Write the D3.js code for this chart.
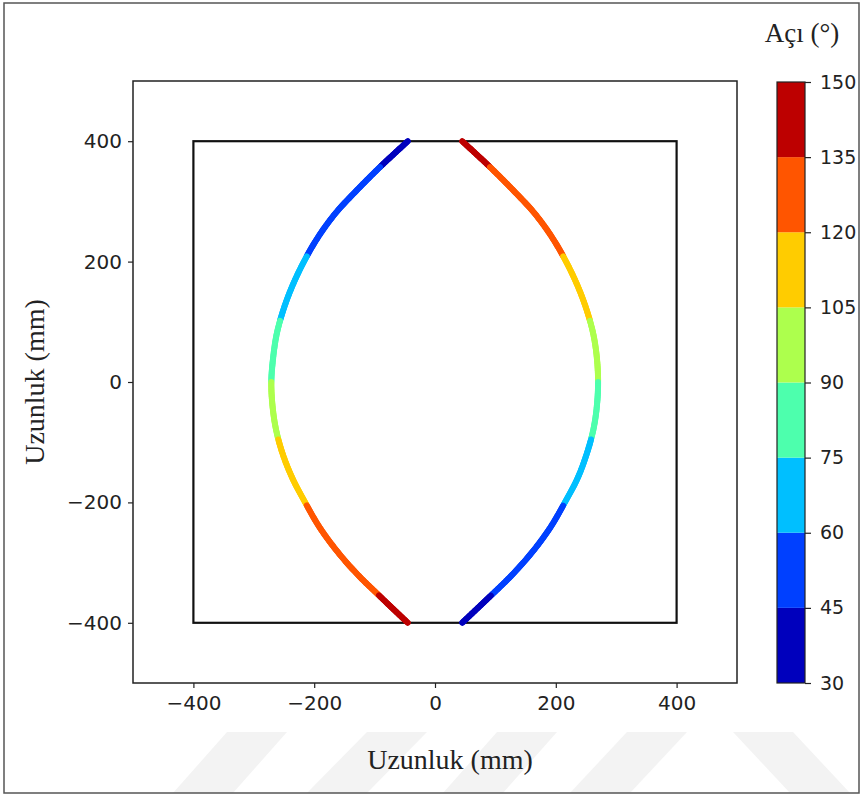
<!DOCTYPE html>
<html>
<head>
<meta charset="utf-8">
<script src="https://cdn.jsdelivr.net/npm/d3@7"></script>
<style>
  body { margin: 0; background: #fff; }
  svg { display: block; }
</style>
</head>
<body>
<svg id="chart" width="863" height="797"></svg>
<script>
// axis ticks
const axisTicks = [-400, -200, 0, 200, 400];
const levels = [30, 45, 60, 75, 90, 105, 120, 135, 150];
const levelColors = ['#0000bd', '#0040ff', '#00bfff', '#4dffad', '#adff4d', '#ffcc00', '#ff5500', '#bd0000'];

// left fibre path (mm) and angle (deg)
const leftY = [400, 360, 320, 280, 240, 200, 160, 120, 80, 40, 0, -40, -80, -120, -160, -200, -240, -280, -320, -360, -400];
const leftX = [-45, -88, -128, -165, -194, -217, -236, -251, -262, -268, -271, -269, -263, -252, -236, -215, -192, -163, -128, -87, -45];
const leftAngle = [41, 44.6, 48.5, 52, 56.5, 61, 66, 72, 78, 84, 90, 96.5, 103, 108.5, 114, 119.5, 124, 128, 132, 135.5, 139];

// right fibre path (mm) and angle (deg)
const rightY = [400, 360, 320, 280, 240, 200, 160, 120, 80, 40, 0, -40, -80, -120, -160, -200, -240, -280, -320, -360, -400];
const rightX = [45, 88, 128, 165, 194, 217, 236, 251, 262, 268, 270, 268, 262, 251, 236, 215, 192, 163, 128, 87, 45];
const rightAngle = [139, 135.4, 131.5, 128, 123.5, 119, 114, 108, 102, 96, 90, 83.5, 77, 71.5, 66, 60.5, 56, 52, 48, 44.5, 41];

const svg = d3.select('#chart');
const serif = '"Liberation Serif", "Times New Roman", serif';
const sans = '"DejaVu Sans", sans-serif';

const margin = { top: 81, left: 133 };
const innerWidth = 604;
const innerHeight = 602;

// faint watermark stripes of the scanned figure
const stripes = [[227, 173], [367, 307], [497, 443], [627, 570]];
stripes.forEach(s => {
  svg.append('path')
      .attr('d', `M${s[0]},732 L${s[0] + 60},732 L${s[1] + 60},793 L${s[1]},793 Z`)
      .attr('fill', '#f3f3f3');
});
svg.append('path')
    .attr('d', 'M733,732 L793,732 L850,793 L790,793 Z')
    .attr('fill', '#f3f3f3');

// outer frame
svg.append('rect')
    .attr('x', 4).attr('y', 3).attr('width', 855).attr('height', 790)
    .attr('fill', 'none').attr('stroke', '#555').attr('stroke-width', 1.5);

const xScale = d3.scaleLinear().domain([-500, 500]).range([0, innerWidth]);
const yScale = d3.scaleLinear().domain([-500, 500]).range([innerHeight, 0]);
const color = d3.scaleThreshold().domain(levels.slice(1, -1)).range(levelColors);
const fmt = d => d < 0 ? '\u2212' + Math.abs(d) : d;

const g = svg.append('g')
    .attr('transform', 'translate(' + margin.left + ',' + margin.top + ')');

// axes
const xAxis = g.append('g')
    .attr('transform', 'translate(0,' + innerHeight + ')')
    .call(d3.axisBottom(xScale).tickValues(axisTicks).tickSize(5).tickPadding(8).tickFormat(fmt));
const yAxis = g.append('g')
    .call(d3.axisLeft(yScale).tickValues(axisTicks).tickSize(5).tickPadding(6).tickFormat(fmt));
[xAxis, yAxis].forEach(a => {
  a.select('.domain').remove();
  a.selectAll('line').attr('stroke', '#222').attr('stroke-width', 1.2);
  a.selectAll('text')
      .attr('fill', '#222')
      .attr('font-family', sans)
      .attr('font-size', 20);
});

g.append('rect')
    .attr('width', innerWidth).attr('height', innerHeight)
    .attr('fill', 'none').attr('stroke', '#222').attr('stroke-width', 1.5);

// plate outline
g.append('rect')
    .attr('x', xScale(-400)).attr('y', yScale(400))
    .attr('width', xScale(400) - xScale(-400))
    .attr('height', yScale(-400) - yScale(400))
    .attr('fill', 'none').attr('stroke', '#111').attr('stroke-width', 2.2);

// fibre paths: smooth line through the points, coloured bit by bit by angle
const drawFibre = (xs, ys, angles) => {
  const pts = xs.map((x, i) => [xScale(x), yScale(ys[i])]);
  const angleAt = d3.scaleLinear().domain(ys.map(yScale)).range(angles);
  const guide = g.append('path')
      .attr('d', d3.line().curve(d3.curveCatmullRom)(pts))
      .attr('fill', 'none');
  const node = guide.node();
  const total = node.getTotalLength();
  const step = 2;
  const pieces = [];
  for (let s = 0; s < total; s += step) {
    const p0 = node.getPointAtLength(s);
    const p1 = node.getPointAtLength(Math.min(total, s + step));
    pieces.push({ x1: p0.x, y1: p0.y, x2: p1.x, y2: p1.y, a: angleAt((p0.y + p1.y) / 2) });
  }
  guide.remove();
  g.append('g').selectAll('line')
    .data(pieces)
    .enter()
    .append('line')
      .attr('x1', d => d.x1)
      .attr('y1', d => d.y1)
      .attr('x2', d => d.x2)
      .attr('y2', d => d.y2)
      .attr('stroke', d => color(d.a))
      .attr('stroke-width', 6)
      .attr('stroke-linecap', 'round');
};
drawFibre(leftX, leftY, leftAngle);
drawFibre(rightX, rightY, rightAngle);

// axis labels
svg.append('text')
    .attr('x', 450).attr('y', 769)
    .attr('text-anchor', 'middle')
    .attr('font-family', serif).attr('font-size', 28).attr('fill', '#222')
    .text('Uzunluk (mm)');

svg.append('text')
    .attr('transform', 'translate(44,382) rotate(-90)')
    .attr('text-anchor', 'middle')
    .attr('font-family', serif).attr('font-size', 28).attr('fill', '#222')
    .text('Uzunluk (mm)');

// colour bar
const cbX = 777, cbW = 28;
const cbScale = d3.scaleLinear().domain([30, 150]).range([683, 82]);
const cb = svg.append('g');
cb.selectAll('rect')
    .data(levelColors)
    .enter()
    .append('rect')
      .attr('x', cbX)
      .attr('y', (d, i) => cbScale(levels[i + 1]))
      .attr('width', cbW)
      .attr('height', (d, i) => cbScale(levels[i]) - cbScale(levels[i + 1]))
      .attr('fill', d => d);
cb.append('rect')
    .attr('x', cbX).attr('y', cbScale(150))
    .attr('width', cbW).attr('height', cbScale(30) - cbScale(150))
    .attr('fill', 'none').attr('stroke', '#222').attr('stroke-width', 1.2);
const cbAxis = cb.append('g')
    .attr('transform', 'translate(' + (cbX + cbW) + ',0)')
    .call(d3.axisRight(cbScale).tickValues(levels).tickSize(6).tickPadding(9));
cbAxis.select('.domain').remove();
cbAxis.selectAll('line').attr('stroke', '#222').attr('stroke-width', 1.2);
cbAxis.selectAll('text')
    .attr('fill', '#222')
    .attr('font-family', sans)
    .attr('font-size', 19);

svg.append('text')
    .attr('x', 802).attr('y', 42)
    .attr('text-anchor', 'middle')
    .attr('font-family', serif).attr('font-size', 27).attr('fill', '#222')
    .text('Açı (°)');
</script>
</body>
</html>
